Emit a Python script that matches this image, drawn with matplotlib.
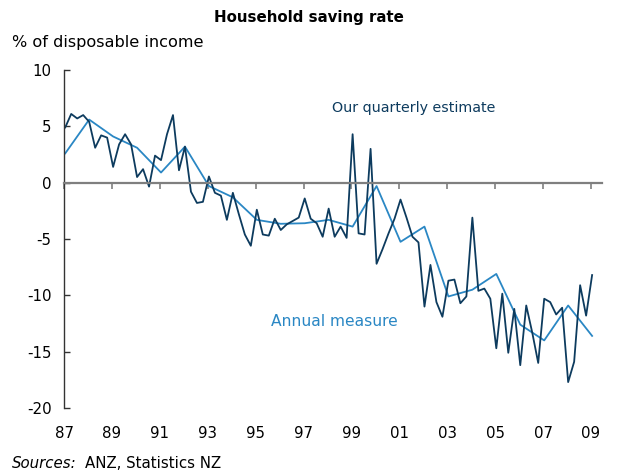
import numpy as np
import matplotlib
matplotlib.use("Agg")
from matplotlib import pyplot as plt

# quarterly estimate, 1987 Q1 onwards (% of disposable income)
quarterly = [4.9, 6.1, 5.7, 6.0, 5.4, 3.1, 4.2, 4.0, 1.4, 3.4,
             4.3, 3.4, 0.5, 1.2, -0.35, 2.4, 2.0, 4.3, 6.0, 1.1,
             3.2, -0.8, -1.8, -1.7, 0.55, -0.9, -1.15, -3.3, -0.9, -2.8,
             -4.6, -5.6, -2.4, -4.6, -4.7, -3.2, -4.2, -3.7, -3.4, -3.1,
             -1.4, -3.2, -3.6, -4.8, -2.3, -4.8, -3.9, -4.9, 4.3, -4.5,
             -4.6, 3.0, -7.2, -5.9, -4.5, -3.2, -1.5, -3.1, -4.8, -5.3,
             -11.0, -7.3, -10.6, -11.9, -8.7, -8.6, -10.7, -10.1, -3.1, -9.6,
             -9.4, -10.3, -14.7, -9.85, -15.1, -11.2, -16.2, -10.9, -13.3, -16.0,
             -10.3, -10.6, -11.7, -11.1, -17.7, -15.9, -9.1, -11.8, -8.2]

# annual measure, one value per year 1987-2009
annual = [2.6, 5.6, 4.1, 3.1, 0.9, 3.2, -0.3, -1.3, -3.3, -3.65,
          -3.6, -3.3, -3.9, -0.3, -5.25, -3.9, -10.1, -9.5, -8.1, -12.6,
          -14.0, -10.9, -13.6]

xticks = list(range(87, 110, 2))
xlabels = ["87", "89", "91", "93", "95", "97", "99", "01", "03", "05", "07", "09"]
yticks = [10, 5, 0, -5, -10, -15, -20]

dark = "#0d3b5e"
light = "#2a87c4"

plt.rcParams['font.family'] = ['DejaVu Sans']

fig = plt.figure(figsize=(6.18, 4.73), dpi=100)
ax = fig.add_axes([0.1036, 0.1374, 0.870, 0.7146])

xq = 87.05 + np.arange(len(quarterly)) * 0.25
xa = 87.05 + np.arange(len(annual))

ax.plot(xa, annual, color=light, linewidth=1.3)
ax.plot(xq, quarterly, color=dark, linewidth=1.3)

ax.set_xlim(87, 109.45)
ax.set_ylim(-20, 10)

ax.set_yticks(yticks)
ax.set_yticklabels([str(v) for v in yticks], fontsize=10.8)
ax.tick_params(axis='y', direction='in', length=4, width=1, pad=9, color='#333333')

# zero line with downward ticks
ax.spines['bottom'].set_position(('data', 0))
ax.spines['bottom'].set_color('#7f7f7f')
ax.spines['bottom'].set_linewidth(1.6)
ax.set_xticks(xticks)
ax.tick_params(axis='x', direction='out', length=4, width=1.2, color='#7f7f7f', labelbottom=False)

# labels along the bottom edge
sec = ax.secondary_xaxis('bottom')
sec.set_xticks(xticks)
sec.set_xticklabels(xlabels, fontsize=10.8)
sec.tick_params(length=0, pad=13)
sec.spines['bottom'].set_visible(False)

ax.spines['top'].set_visible(False)
ax.spines['right'].set_visible(False)
ax.spines['left'].set_color('#333333')
ax.spines['left'].set_linewidth(1)

ax.text(101.6, 6.6, "Our quarterly estimate", color=dark, fontsize=10.3, ha='center', va='center')
ax.text(98.3, -12.3, "Annual measure", color=light, fontsize=11.2, ha='center', va='center')

fig.text(0.5, 0.962, "Household saving rate", fontsize=10.8, fontweight='bold', ha='center', va='center')
fig.text(0.019, 0.911, "% of disposable income", fontsize=11.6, ha='left', va='center')
fig.text(0.019, 0.021, "Sources:", fontsize=10.8, style='italic', ha='left', va='center')
fig.text(0.137, 0.021, "ANZ, Statistics NZ", fontsize=10.8, ha='left', va='center')

fig.savefig("out.png", dpi=100)
